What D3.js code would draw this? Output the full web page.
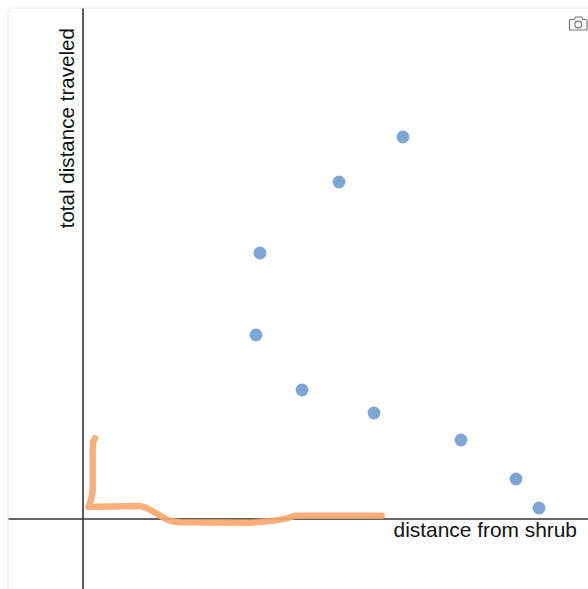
<!DOCTYPE html>
<html>
<head>
<meta charset="utf-8">
<script src="https://cdn.jsdelivr.net/npm/d3@7"></script>
<style>
  html, body { margin: 0; padding: 0; background: #fff; overflow: hidden; }
  text { font-family: "Liberation Sans", Arial, sans-serif; fill: #111; }
</style>
</head>
<body>
<div id="chart"></div>
<script>
// dots
const dotX = [64.1, 51.3, 35.5, 34.7, 43.9, 58.3, 75.7, 86.7, 91.3];
const dotY = [76.3, 67.3, 53.1, 36.7, 25.7, 21.1, 15.7, 7.9, 2.1];

// hand drawn stroke
const sketchX = [2.5, 2.1, 2.04, 2.04, 1.8, 1.16, 2.84, 11.5, 12.84, 15.5, 16.84, 17.9, 19.5, 33.84, 35.9, 38.5, 40.84, 42.5, 59.84];
const sketchY = [16.1, 15.3, 13.7, 5.7, 4.1, 2.3, 2.36, 2.5, 2.1, 0.6, -0.2, -0.56, -0.76, -0.84, -0.66, -0.42, 0.04, 0.56, 0.56];

const xLabel = "distance from shrub";
const yLabel = "total distance traveled";

const width = 588;
const height = 589;
const frame = { top: 8, left: 8 };

const svg = d3.select("#chart")
    .append("svg")
    .attr("width", width)
    .attr("height", height)
    .style("display", "block");

// plot frame, only top and left edges show
svg.append("path")
    .attr("d", `M${frame.left},${height} V${frame.top + 4} Q${frame.left},${frame.top} ${frame.left + 4},${frame.top} H${width}`)
    .attr("fill", "none")
    .attr("stroke", "#e6e6e6")
    .attr("stroke-width", 1);

const x = d3.scaleLinear()
    .domain([-14.9, 101.1])
    .range([frame.left, width]);
const y = d3.scaleLinear()
    .domain([-14.1, 102.1])
    .range([height, frame.top]);

svg.append("g")
    .attr("transform", `translate(0, ${y(0)})`)
    .call(d3.axisBottom(x).tickValues([]).tickSizeOuter(0))
    .select(".domain")
    .attr("stroke", "#333")
    .attr("stroke-width", 1.6);
svg.append("g")
    .attr("transform", `translate(${x(0)}, 0)`)
    .call(d3.axisLeft(y).tickValues([]).tickSizeOuter(0))
    .select(".domain")
    .attr("stroke", "#333")
    .attr("stroke-width", 1.6);

const line = d3.line()
    .x(i => x(sketchX[i]))
    .y(i => y(sketchY[i]));

svg.append("path")
    .attr("d", line(d3.range(sketchX.length)))
    .attr("fill", "none")
    .attr("stroke", "#f9a66c")
    .attr("stroke-opacity", 0.9)
    .attr("stroke-width", 6.4)
    .attr("stroke-linecap", "round")
    .attr("stroke-linejoin", "round");

svg.selectAll(".dot")
    .data(dotX.map((d, i) => ({ x: d, y: dotY[i] })))
    .enter()
    .append("circle")
    .attr("class", "dot")
    .attr("cx", d => x(d.x))
    .attr("cy", d => y(d.y))
    .attr("r", 6.4)
    .attr("fill", "#7ba6d5");

svg.append("text")
    .attr("x", 577)
    .attr("y", 537)
    .attr("text-anchor", "end")
    .attr("font-size", 20.9)
    .text(xLabel);

svg.append("text")
    .attr("transform", "translate(74, 28) rotate(-90)")
    .attr("text-anchor", "end")
    .attr("font-size", 20.6)
    .text(yLabel);

// camera icon
const cam = svg.append("g")
    .attr("transform", "translate(569, 17)")
    .attr("fill", "none")
    .attr("stroke", "#777")
    .attr("stroke-width", 1.2);
cam.append("path")
    .attr("d", "M1.5,2.5 H5 L6.5,0 H12.5 L14,2.5 H17 Q18,2.5 18,3.5 V12 Q18,13 17,13 H1.5 Q0.5,13 0.5,12 V3.5 Q0.5,2.5 1.5,2.5 Z");
cam.append("circle")
    .attr("cx", 9.2)
    .attr("cy", 7.5)
    .attr("r", 3.4);
</script>
</body>
</html>
